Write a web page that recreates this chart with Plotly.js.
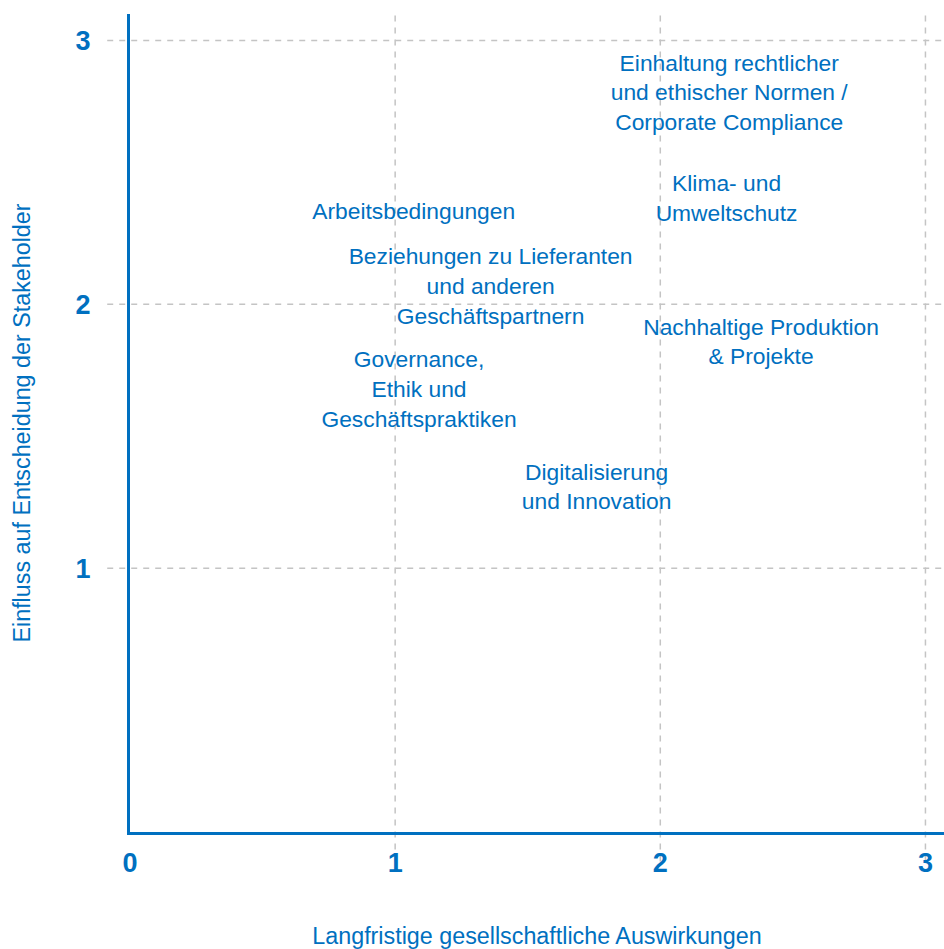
<!DOCTYPE html>
<html>
<head>
<meta charset="utf-8">
<script src="https://cdn.plot.ly/plotly-3.0.1.min.js"></script>
<style>html,body{margin:0;padding:0;background:#fff;}#chart{width:944px;height:949px;}</style>
</head>
<body>
<div id="chart"></div>
<script>
// Topic labels (line breaks as in the chart)
const topics = [
  "Einhaltung rechtlicher<br>und ethischer Normen /<br>Corporate Compliance",
  "Klima- und<br>Umweltschutz",
  "Arbeitsbedingungen",
  "Beziehungen zu Lieferanten<br>und anderen<br>Geschäftspartnern",
  "Nachhaltige Produktion<br>& Projekte",
  "Governance,<br>Ethik und<br>Geschäftspraktiken",
  "Digitalisierung<br>und Innovation"
];
// Long-term societal impact (x)
const impact = [2.26, 2.25, 1.07, 1.36, 2.38, 1.09, 1.76];
// Stakeholder influence (y)
const influence = [2.795, 2.395, 2.345, 2.06, 1.85, 1.67, 1.30];

const xTicks = [0, 1, 2, 3];
const yTicks = [1, 2, 3];
const xTitle = "Langfristige gesellschaftliche Auswirkungen";
const yTitle = "Einfluss auf Entscheidung der Stakeholder";

const blue = "#0070C0";
const font = "Arial, 'Liberation Sans', sans-serif";

const shapes = [];
xTicks.filter(v => v > 0).forEach(v => shapes.push({
  type: "line", xref: "x", yref: "paper", x0: v, x1: v, y0: -0.036, y1: 1,
  line: {color: "#c4c4c4", width: 1.5, dash: "6px,6px"}, layer: "below"
}));
yTicks.forEach(v => shapes.push({
  type: "line", xref: "paper", yref: "y", x0: -0.028, x1: 1, y0: v, y1: v,
  line: {color: "#c4c4c4", width: 1.5, dash: "6px,6px"}, layer: "below"
}));

const trace = {
  type: "scatter", mode: "text",
  x: impact, y: influence, text: topics,
  textposition: "middle center",
  textfont: {family: font, size: 22.8, color: blue},
  hoverinfo: "none", showlegend: false, cliponaxis: false
};

const layout = {
  width: 944, height: 949,
  margin: {l: 130, r: 0, t: 14, b: 117},
  paper_bgcolor: "#fff", plot_bgcolor: "#fff",
  showlegend: false,
  font: {family: font, color: blue},
  shapes: shapes,
  xaxis: {
    range: [0, 3.07], tickvals: xTicks, ticktext: xTicks.map(String),
    showgrid: false, zeroline: false,
    showline: true, linecolor: blue, linewidth: 3,
    ticks: "outside", ticklen: 5, tickcolor: "rgba(0,0,0,0)",
    tickfont: {family: font, size: 27, color: blue, weight: "bold"},
    title: {text: xTitle, font: {family: font, size: 23.3, color: blue}, standoff: 59},
    automargin: false
  },
  yaxis: {
    range: [0, 3.1], tickvals: yTicks, ticktext: yTicks.map(String),
    showgrid: false, zeroline: false,
    showline: true, linecolor: blue, linewidth: 3,
    ticks: "outside", ticklen: 31, tickcolor: "rgba(0,0,0,0)",
    tickfont: {family: font, size: 27, color: blue, weight: "bold"},
    title: {text: yTitle, font: {family: font, size: 23.3, color: blue}, standoff: 39},
    automargin: false
  }
};

Plotly.newPlot("chart", [trace], layout, {displayModeBar: false, staticPlot: true});
</script>
</body>
</html>
